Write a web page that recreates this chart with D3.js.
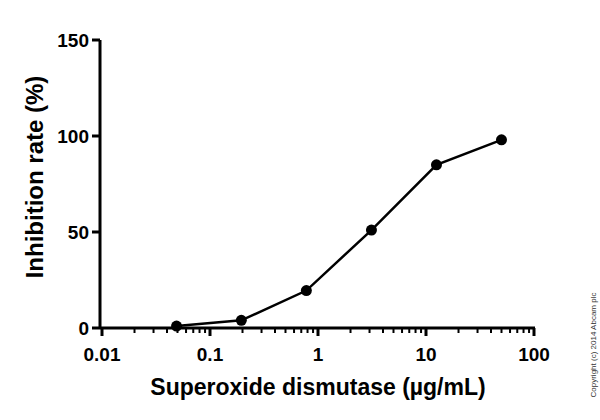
<!DOCTYPE html>
<html><head><meta charset="utf-8">
<script src="https://cdn.jsdelivr.net/npm/d3@7"></script>
<style>body{margin:0;background:#fff}</style>
</head><body><div id="plot"></div>
<script>
let concentrations = [0.049, 0.195, 0.78, 3.125, 12.5, 50];
let inhibition = [1, 4, 19.5, 51, 85, 98];
let xTicks = [0.01, 0.1, 1, 10, 100];
let yTicks = [0, 50, 100, 150];

let svg = d3.select('#plot').append('svg').attr('width', 600).attr('height', 420);

let x = d3.scaleLog().domain([0.01, 100]).range([102, 534]);
let y = d3.scaleLinear().domain([0, 150]).range([328, 40]);

let minor = [];
for (let e = -2; e < 2; e++) for (let m = 2; m < 10; m++) minor.push(m * Math.pow(10, e));

let gx = svg.append('g').attr('transform', 'translate(0,328)');
gx.append('line').attr('x1', 100).attr('x2', 535).attr('stroke', '#000').attr('stroke-width', 3);
gx.selectAll('.mn').data(minor).enter().append('line')
    .attr('x1', d => x(d)).attr('x2', d => x(d)).attr('y1', 0).attr('y2', 5)
    .attr('stroke', '#000').attr('stroke-width', 2);
gx.selectAll('.mj').data(xTicks).enter().append('line')
    .attr('x1', d => x(d)).attr('x2', d => x(d)).attr('y1', 0).attr('y2', 8)
    .attr('stroke', '#000').attr('stroke-width', 3);
gx.selectAll('text').data(xTicks).enter().append('text')
    .attr('x', d => x(d)).attr('y', 33).attr('text-anchor', 'middle')
    .style('font', 'bold 19px Arial, "Liberation Sans", sans-serif').text(d => d);

let gy = svg.append('g').attr('transform', 'translate(100,0)');
gy.append('line').attr('y1', 40).attr('y2', 329).attr('stroke', '#000').attr('stroke-width', 3);
gy.selectAll('.mj').data(yTicks).enter().append('line')
    .attr('x1', -8).attr('x2', 0).attr('y1', d => y(d)).attr('y2', d => y(d))
    .attr('stroke', '#000').attr('stroke-width', 3);
gy.selectAll('text').data(yTicks).enter().append('text')
    .attr('x', -11).attr('y', d => y(d) + 7).attr('text-anchor', 'end')
    .style('font', 'bold 19px Arial, "Liberation Sans", sans-serif').text(d => d);

svg.append('text').attr('x', 318).attr('y', 395).attr('text-anchor', 'middle')
    .style('font', 'bold 23px Arial, "Liberation Sans", sans-serif').text('Superoxide dismutase (\u00b5g/mL)');
svg.append('text').attr('transform', 'translate(43,177) rotate(-90)').attr('text-anchor', 'middle')
    .style('font', 'bold 24px Arial, "Liberation Sans", sans-serif').text('Inhibition rate (%)');
svg.append('text').attr('transform', 'translate(596,345) rotate(-90)').attr('text-anchor', 'middle')
    .style('font', '8px Arial, "Liberation Sans", sans-serif').attr('fill', '#333').text('Copyright (c) 2014 Abcam plc');

let data = concentrations.map((c, i) => ({ c: c, v: inhibition[i] }));
let line = d3.line().x(d => x(d.c)).y(d => y(d.v));
svg.append('path').attr('d', line(data)).attr('fill', 'none').attr('stroke', '#000').attr('stroke-width', 2.5);
svg.selectAll('circle').data(data).enter().append('circle')
    .attr('cx', d => x(d.c)).attr('cy', d => y(d.v)).attr('r', 5.5).attr('fill', '#000');
</script></body></html>
